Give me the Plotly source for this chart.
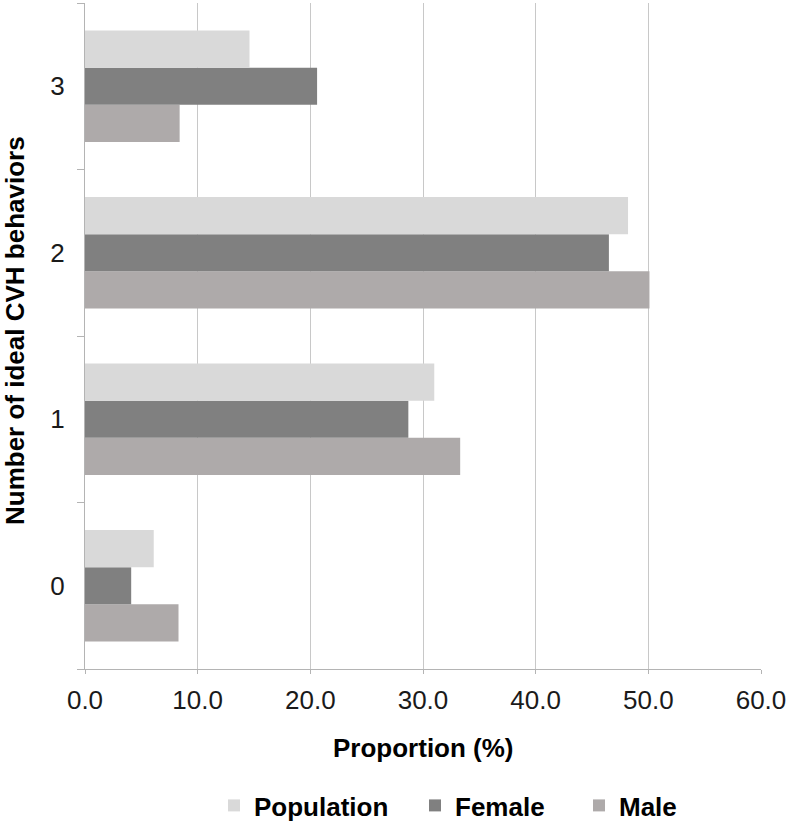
import plotly.graph_objects as go

categories = ["0", "1", "2", "3"]
population = [6.1, 31.0, 48.2, 14.6]
female = [4.1, 28.7, 46.5, 20.6]
male = [8.3, 33.3, 50.1, 8.4]
x_ticks = [0, 10, 20, 30, 40, 50, 60]
x_ticklabels = ["0.0", "10.0", "20.0", "30.0", "40.0", "50.0", "60.0"]

FONT = "Liberation Sans, Arial, Helvetica, sans-serif"
W, H = 787, 824
L, R, T, B = 85, 26, 3, 155
PW, PH = W - L - R, H - T - B


def px_x(x):
    return (x - L) / PW


def px_y(y):
    return (H - B - y) / PH


fig = go.Figure()
fig.add_trace(go.Bar(y=categories, x=male, name="Male", orientation="h", legend="legend3",
                     marker=dict(color="#aeaaaa", line=dict(width=0))))
fig.add_trace(go.Bar(y=categories, x=female, name="Female", orientation="h", legend="legend2",
                     marker=dict(color="#808080", line=dict(width=0))))
fig.add_trace(go.Bar(y=categories, x=population, name="Population", orientation="h", legend="legend",
                     marker=dict(color="#d9d9d9", line=dict(width=0))))

leg_common = dict(orientation="h", xanchor="left", yanchor="top", y=px_y(782),
                  font=dict(family=FONT, size=26, color="black", weight="bold"),
                  bgcolor="rgba(0,0,0,0)")

fig.update_layout(
    width=W, height=H,
    margin=dict(l=L, r=R, t=T, b=B, autoexpand=False),
    plot_bgcolor="white", paper_bgcolor="white",
    barmode="group", bargap=0.33, bargroupgap=0,
    font=dict(family=FONT, color="#1a1a1a"),
    showlegend=True,
    legend=dict(x=px_x(214), **leg_common),
    legend2=dict(x=px_x(415), **leg_common),
    legend3=dict(x=px_x(579), **leg_common),
    xaxis=dict(range=[0, 60], tickvals=x_ticks, ticktext=x_ticklabels,
               showgrid=True, gridcolor="#c8c8c8", gridwidth=1,
               showline=True, linecolor="#b4b4b4", linewidth=1,
               ticks="outside", ticklen=4, tickcolor="#b4b4b4",
               tickfont=dict(family=FONT, size=26, color="#1a1a1a"),
               ticklabelstandoff=4,
               zeroline=False, fixedrange=True, automargin=False),
    yaxis=dict(type="category", categoryorder="array", categoryarray=categories,
               showgrid=False, showline=True, linecolor="#b4b4b4", linewidth=1,
               ticks="outside", ticklen=7, tickcolor="#b4b4b4", tickson="boundaries",
               tickfont=dict(family=FONT, size=26, color="#1a1a1a"),
               ticklabelstandoff=14,
               fixedrange=True, automargin=False),
    annotations=[
        dict(text="<b>Number of ideal CVH behaviors</b>", textangle=-90,
             xref="paper", yref="paper", x=px_x(15), y=px_y(331),
             xanchor="center", yanchor="middle", showarrow=False,
             font=dict(family=FONT, size=26, color="black")),
        dict(text="<b>Proportion (%)</b>",
             xref="paper", yref="paper", x=px_x(423), y=px_y(748),
             xanchor="center", yanchor="middle", showarrow=False,
             font=dict(family=FONT, size=26, color="black")),
    ],
)

fig.write_html("out.html", config={"displayModeBar": False},
               post_script="document.body.style.margin='0';document.body.style.overflow='hidden';")
